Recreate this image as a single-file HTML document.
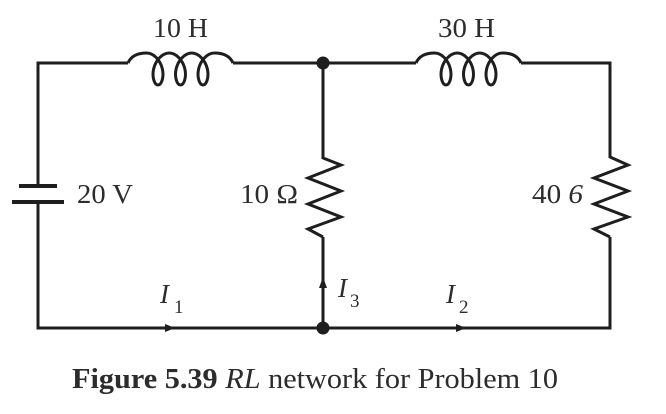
<!DOCTYPE html>
<html>
<head>
<meta charset="utf-8">
<style>
  html, body { margin: 0; padding: 0; background: #ffffff; }
  svg { display: block; }
  .lbl { font-family: "Liberation Serif", "DejaVu Serif", serif; fill: #2c2c2c; }
</style>
</head>
<body>
<svg width="666" height="414" viewBox="0 0 666 414" xmlns="http://www.w3.org/2000/svg">
  <rect x="0" y="0" width="666" height="414" fill="#ffffff"/>
  <g fill="none" stroke="#1e1e1e" stroke-width="3" stroke-linejoin="miter" stroke-linecap="butt">
    <!-- top wires -->
    <polyline points="38,186 38,63 128,63"/>
    <line x1="233" y1="63" x2="416" y2="63"/>
    <polyline points="521,63 610,63 610,158"/>
    <!-- left bottom wire from battery -->
    <polyline points="38,202 38,328 610,328 610,237"/>
    <!-- middle branch -->
    <line x1="323" y1="63" x2="323" y2="159"/>
    <line x1="323" y1="237" x2="323" y2="328"/>
    <!-- middle resistor -->
    <polyline points="323,158 341,165 308,178 341,191 308,204 341,217 308,229 323,237"/>
    <!-- right resistor -->
    <polyline points="610,157 628,165 594,178 628,191 594,204 628,217 594,229 610,237"/>
    <!-- inductor 1 -->
    <path d="M128,63 C131,56 137,53 146.75,53
      C153.86,53 160.5,60.62 162.37,69
      C164.24,77.38 161.36,85 158,85
      C154.64,85 151.75,77.38 153.62,69
      C155.49,60.62 162.13,53 169.25,53
      C176.36,53 183,60.62 184.87,69
      C186.74,77.38 183.86,85 180.5,85
      C177.14,85 174.25,77.38 176.12,69
      C177.99,60.62 184.63,53 191.75,53
      C198.86,53 205.5,60.62 207.37,69
      C209.24,77.38 206.36,85 203,85
      C199.64,85 196.75,77.38 198.62,69
      C200.49,60.62 207.13,53 214.25,53
      C224,53 230,56 233,63"/>
    <!-- inductor 2 -->
    <path transform="translate(288,0)" d="M128,63 C131,56 137,53 146.75,53
      C153.86,53 160.5,60.62 162.37,69
      C164.24,77.38 161.36,85 158,85
      C154.64,85 151.75,77.38 153.62,69
      C155.49,60.62 162.13,53 169.25,53
      C176.36,53 183,60.62 184.87,69
      C186.74,77.38 183.86,85 180.5,85
      C177.14,85 174.25,77.38 176.12,69
      C177.99,60.62 184.63,53 191.75,53
      C198.86,53 205.5,60.62 207.37,69
      C209.24,77.38 206.36,85 203,85
      C199.64,85 196.75,77.38 198.62,69
      C200.49,60.62 207.13,53 214.25,53
      C224,53 230,56 233,63"/>
  </g>
  <!-- battery plates -->
  <line x1="19" y1="186" x2="57" y2="186" stroke="#1e1e1e" stroke-width="4"/>
  <line x1="12" y1="202" x2="64" y2="202" stroke="#1e1e1e" stroke-width="4"/>
  <!-- nodes -->
  <circle cx="323" cy="63" r="6.5" fill="#1e1e1e"/>
  <circle cx="323" cy="328" r="6.5" fill="#1e1e1e"/>
  <!-- arrowheads -->
  <polygon points="175,328 165,324 165,332" fill="#1e1e1e"/>
  <polygon points="466,328 456,324 456,332" fill="#1e1e1e"/>
  <polygon points="323,277 319,288 327,288" fill="#1e1e1e"/>

  <!-- labels -->
  <text class="lbl" x="153" y="37" font-size="27" textLength="55" lengthAdjust="spacingAndGlyphs">10 H</text>
  <text class="lbl" x="438" y="37" font-size="27" textLength="57" lengthAdjust="spacingAndGlyphs">30 H</text>
  <text class="lbl" x="77" y="203" font-size="27" textLength="56" lengthAdjust="spacingAndGlyphs">20 V</text>
  <text class="lbl" x="240" y="203" font-size="27" textLength="58" lengthAdjust="spacingAndGlyphs">10 Ω</text>
  <text class="lbl" x="532" y="203" font-size="27" textLength="51" lengthAdjust="spacingAndGlyphs">40 <tspan font-style="italic">6</tspan></text>

  <text class="lbl" x="160" y="303" font-size="27" font-style="italic">I</text>
  <text class="lbl" x="174" y="313" font-size="19">1</text>
  <text class="lbl" x="338" y="297" font-size="27" font-style="italic">I</text>
  <text class="lbl" x="350" y="307" font-size="19">3</text>
  <text class="lbl" x="446" y="303" font-size="27" font-style="italic">I</text>
  <text class="lbl" x="459" y="313" font-size="19">2</text>

  <!-- caption -->
  <text class="lbl" x="72" y="388" font-size="28" fill="#1e1e1e" textLength="486" lengthAdjust="spacingAndGlyphs"><tspan font-weight="bold">Figure 5.39</tspan> <tspan font-style="italic">RL</tspan> network for Problem 10</text>
</svg>
</body>
</html>
